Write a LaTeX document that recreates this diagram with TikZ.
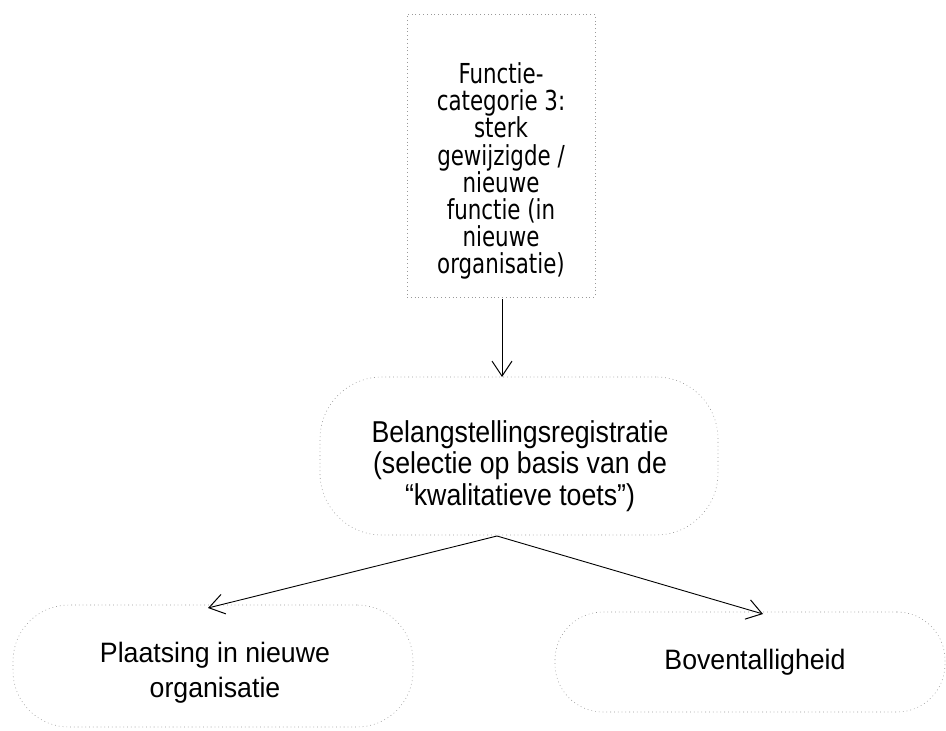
\documentclass[tikz,border=0pt]{standalone}
\usepackage{fontspec}
\setmainfont{Liberation Sans}
\newfontfamily\tahomalike{DejaVu Sans Condensed}
\usetikzlibrary{arrows.meta}
\newcommand{\stretchedlines}[4]{\scalebox{#1}[#2]{\parbox{#3}{\centering\lineskiplimit=-100pt #4}}}
\begin{document}
\begin{tikzpicture}[x=1pt,y=-1pt,
  outline/.style={draw=black!40, line width=0.6pt, dash pattern=on 0.8pt off 3pt, inner sep=0pt},
  conn/.style={draw=black, line width=0.9pt, -{Straight Barb[length=15pt,width=20pt,line width=1pt]}},
  boxtext/.style={align=center, inner sep=0pt, text=black}
]
\path[use as bounding box] (0,0) rectangle (946,731);

% outlines
\node[outline, minimum width=188pt, minimum height=283pt] (top) at (501,155.5) {};
\node[outline, rounded corners=62pt, minimum width=398pt, minimum height=158pt] (mid) at (519,456) {};
\node[outline, rounded corners=56pt, minimum width=400pt, minimum height=122pt] (left) at (213,666) {};
\node[outline, rounded corners=48pt, minimum width=390pt, minimum height=100pt] (right) at (750,662) {};

% texts
\node[boxtext, font={\tahomalike\fontsize{25}{24.7}\selectfont}] (toptext) at (501,171)
  {\stretchedlines{0.95}{1.1}{200pt}{Functie-\\categorie 3:\\sterk\\gewijzigde /\\nieuwe\\functie (in\\nieuwe\\organisatie)}};
\node[boxtext, font={\fontsize{26.7}{27.9}\selectfont}] (midtext) at (520,466)
  {\stretchedlines{1}{1.13}{380pt}{Belangstellingsregistratie\\(selectie op basis van de\\“kwalitatieve toets”)}};
\node[boxtext, font={\fontsize{26.7}{33.3}\selectfont}] (lefttext) at (215,673)
  {\stretchedlines{1}{1.05}{380pt}{Plaatsing in nieuwe\\organisatie}};
\node[boxtext, font={\fontsize{26.7}{30}\selectfont}] (righttext) at (755,662)
  {\stretchedlines{1}{1.05}{380pt}{Boventalligheid}};

% connectors
\coordinate (topout) at (502,299);
\coordinate (midin) at (502,377);
\coordinate (apex) at (497,536);
\coordinate (leftin) at (208,608);
\coordinate (rightin) at (763,614);
\draw[conn] (topout) -- (midin);
\draw[conn] (apex) -- (leftin);
\draw[conn] (apex) -- (rightin);
\end{tikzpicture}
\end{document}
